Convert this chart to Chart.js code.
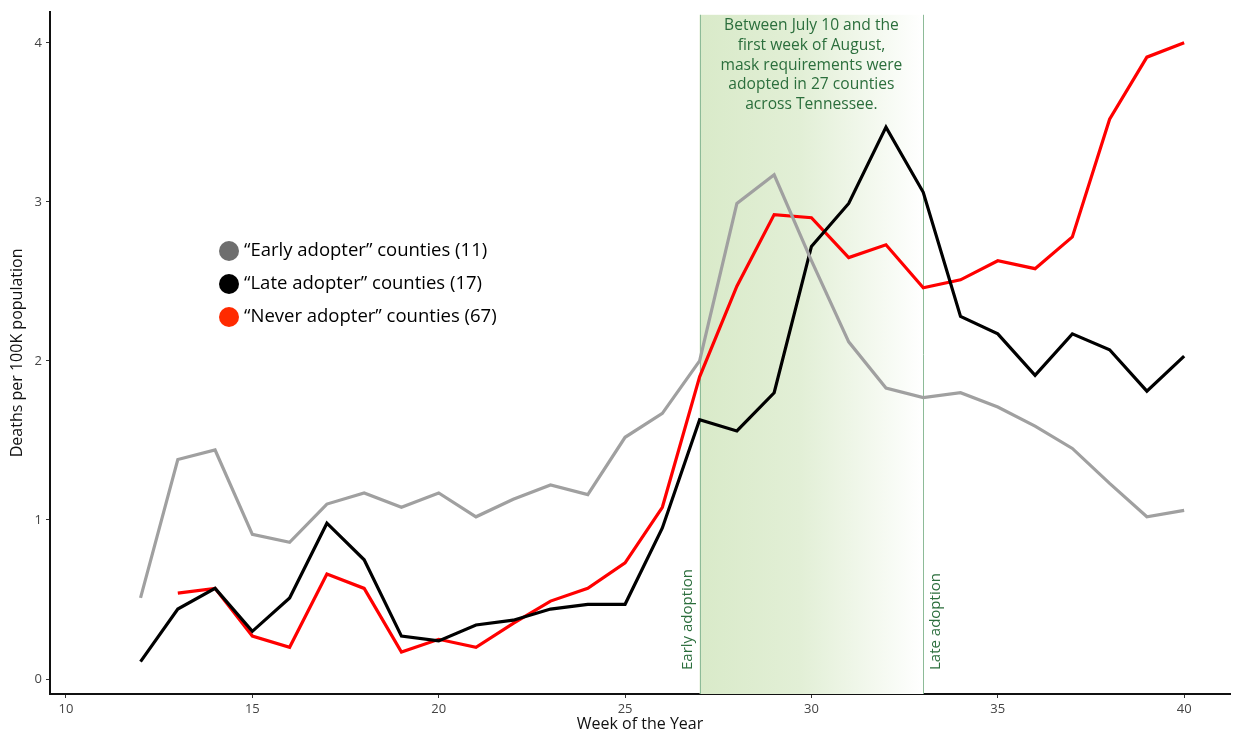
<!DOCTYPE html>
<html>
<head>
<meta charset="utf-8">
<script src="https://cdn.jsdelivr.net/npm/chart.js@4.4.1/dist/chart.umd.min.js"></script>
<style>
  html, body { margin: 0; padding: 0; background: #fff; }
  #wrap { width: 1238px; height: 734px; position: relative; }
</style>
</head>
<body>
<div id="wrap"><canvas id="chart" width="1238" height="734"></canvas></div>
<script>
// Week numbers on the x axis
const weeks = [12, 13, 14, 15, 16, 17, 18, 19, 20, 21, 22, 23, 24, 25, 26, 27, 28, 29, 30, 31, 32, 33, 34, 35, 36, 37, 38, 39, 40];

// Deaths per 100K population
const earlyAdopter = [0.51, 1.38, 1.44, 0.91, 0.86, 1.10, 1.17, 1.08, 1.17, 1.02, 1.13, 1.22, 1.16, 1.52, 1.67, 2.00, 2.99, 3.17, 2.63, 2.12, 1.83, 1.77, 1.80, 1.71, 1.59, 1.45, 1.23, 1.02, 1.06];
const lateAdopter = [0.11, 0.44, 0.57, 0.30, 0.51, 0.98, 0.75, 0.27, 0.24, 0.34, 0.37, 0.44, 0.47, 0.47, 0.95, 1.63, 1.56, 1.80, 2.72, 2.99, 3.47, 3.06, 2.28, 2.17, 1.91, 2.17, 2.07, 1.81, 2.03];
const neverAdopter = [null, 0.54, 0.57, 0.27, 0.20, 0.66, 0.57, 0.17, 0.25, 0.20, 0.35, 0.49, 0.57, 0.73, 1.08, 1.90, 2.47, 2.92, 2.90, 2.65, 2.73, 2.46, 2.51, 2.63, 2.58, 2.78, 3.52, 3.91, 4.00];

const seriesLabels = ['\u201CEarly adopter\u201D counties (11)', '\u201CLate adopter\u201D counties (17)', '\u201CNever adopter\u201D counties (67)'];
const lineColors = ['#a0a0a0', '#000000', '#ff0000'];
const dotColors = ['#6e6e6e', '#000000', '#ff2a00'];

const xTicks = [10, 15, 20, 25, 30, 35, 40];
const yTicks = [0, 1, 2, 3, 4];

// mask adoption window (weeks)
const earlyWeek = 27;
const lateWeek = 33;
const noteLines = ['Between July 10 and the', 'first week of August,', 'mask requirements were', 'adopted in 27 counties', 'across Tennessee.'];

const FONT = "'Open Sans', 'Noto Sans', sans-serif";
const GREEN_TEXT = '#2b6e3c';

function toPoints(vals) {
    return weeks.map((w, i) => ({ x: w, y: vals[i] }));
}

// shaded window, boundary lines and labels, drawn under the data
const windowPlugin = {
    id: 'maskWindow',
    beforeDatasetsDraw(chart) {
        const { ctx, chartArea, scales } = chart;
        const x1 = scales.x.getPixelForValue(earlyWeek);
        const x2 = scales.x.getPixelForValue(lateWeek);
        const top = chartArea.top + 3;
        const bottom = chartArea.bottom;

        ctx.save();
        const grad = ctx.createLinearGradient(x1, 0, x2, 0);
        grad.addColorStop(0, '#d9eac9');
        grad.addColorStop(0.45, '#e2efd6');
        grad.addColorStop(1, '#ffffff');
        ctx.fillStyle = grad;
        ctx.fillRect(x1, top, x2 - x1, bottom - top);

        ctx.strokeStyle = '#8dbb98';
        ctx.lineWidth = 1;
        [x1, x2].forEach(x => {
            ctx.beginPath();
            ctx.moveTo(Math.round(x) + 0.5, top);
            ctx.lineTo(Math.round(x) + 0.5, bottom);
            ctx.stroke();
        });

        // note text
        ctx.fillStyle = GREEN_TEXT;
        ctx.font = '15.6px ' + FONT;
        ctx.textAlign = 'center';
        ctx.textBaseline = 'middle';
        const cx = scales.x.getPixelForValue((earlyWeek + lateWeek) / 2);
        noteLines.forEach((t, i) => ctx.fillText(t, cx, 26 + i * 19.6));

        // vertical labels
        ctx.font = '15px ' + FONT;
        ctx.textAlign = 'left';
        ctx.save();
        ctx.translate(x1 - 4, bottom - 24);
        ctx.rotate(-Math.PI / 2);
        ctx.textBaseline = 'bottom';
        ctx.fillText('Early adoption', 0, 0);
        ctx.restore();

        ctx.save();
        ctx.translate(x2 + 5, bottom - 24);
        ctx.rotate(-Math.PI / 2);
        ctx.textBaseline = 'top';
        ctx.fillText('Late adoption', 0, 0);
        ctx.restore();
        ctx.restore();
    }
};

// legend with filled dots inside the plot
const dotLegend = {
    id: 'dotLegend',
    afterDraw(chart) {
        const { ctx } = chart;
        ctx.save();
        ctx.font = '18.5px ' + FONT;
        ctx.textBaseline = 'middle';
        ctx.textAlign = 'left';
        seriesLabels.forEach((lab, i) => {
            const y = 251 + i * 33;
            ctx.beginPath();
            ctx.arc(229, y, 10, 0, Math.PI * 2);
            ctx.fillStyle = dotColors[i];
            ctx.fill();
            ctx.fillStyle = '#000';
            ctx.fillText(lab, 244, y);
        });
        ctx.restore();
    }
};

const datasets = [earlyAdopter, lateAdopter, neverAdopter].map((vals, i) => ({
    label: seriesLabels[i],
    data: toPoints(vals),
    borderColor: lineColors[i],
    backgroundColor: lineColors[i],
    borderWidth: 3.2,
    pointRadius: 0,
    tension: 0,
    spanGaps: false
}));

new Chart(document.getElementById('chart'), {
    type: 'line',
    data: { datasets: datasets },
    plugins: [windowPlugin, dotLegend],
    options: {
        responsive: false,
        animation: false,
        layout: { padding: { left: 0, right: 8, top: 10, bottom: 0 } },
        plugins: {
            legend: { display: false },
            tooltip: { enabled: false }
        },
        scales: {
            x: {
                type: 'linear',
                min: 9.571,
                max: 41.23,
                afterFit(scale) { scale.height = 40; },
                afterBuildTicks(scale) { scale.ticks = xTicks.map(v => ({ value: v })); },
                grid: { drawOnChartArea: false, drawTicks: true, tickLength: 4, color: '#333' },
                border: { display: true, color: '#111', width: 2 },
                ticks: { color: '#444', font: { family: FONT, size: 13 }, padding: 3, maxRotation: 0 },
                title: { display: true, text: 'Week of the Year', color: '#111', font: { family: FONT, size: 16 }, padding: { top: 0, bottom: 0 } }
            },
            y: {
                min: -0.094,
                max: 4.195,
                afterFit(scale) { scale.width = 50; },
                afterBuildTicks(scale) { scale.ticks = yTicks.map(v => ({ value: v })); },
                grid: { drawOnChartArea: false, drawTicks: true, tickLength: 4, color: '#333' },
                border: { display: true, color: '#111', width: 2 },
                ticks: { color: '#444', font: { family: FONT, size: 13 }, padding: 4 },
                title: { display: true, text: 'Deaths per 100K population', color: '#111', font: { family: FONT, size: 16 }, padding: { top: 8, bottom: 2 } }
            }
        }
    }
});
</script>
</body>
</html>
